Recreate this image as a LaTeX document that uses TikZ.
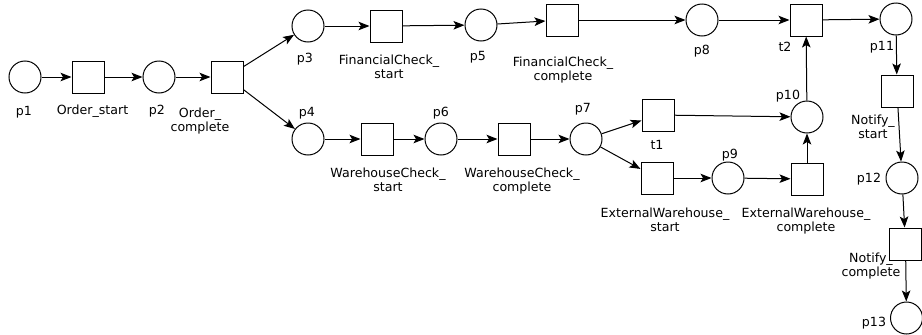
\documentclass[tikz,border=0pt]{standalone}
\usepackage{fontspec}
\setmainfont{DejaVu Sans}
\usetikzlibrary{arrows.meta}
\begin{document}
\begin{tikzpicture}[x=1pt,y=-1pt,
  place/.style={circle,draw,line width=1pt,minimum size=32pt,inner sep=0pt},
  trans/.style={rectangle,draw,line width=1pt,minimum size=32pt,inner sep=0pt},
  lbl/.style={anchor=north,inner sep=0pt,align=center,font=\fontsize{12.6}{14}\selectfont},
  arc/.style={-{Stealth[length=11pt,width=8.5pt,inset=2.5pt]},line width=1pt}]
\useasboundingbox (0,0) rectangle (922,335);
% places and transitions
\node[place] (p1) at (25,77) {};
\node[trans] (os) at (88,77) {};
\node[place] (p2) at (159,77) {};
\node[trans] (oc) at (227,77) {};
\node[place] (p3) at (308,26) {};
\node[trans] (fcs) at (386,26) {};
\node[place] (p5) at (481,25) {};
\node[trans] (fcc) at (562,20) {};
\node[place] (p8) at (702,20) {};
\node[trans] (t2) at (806,20) {};
\node[place] (p11) at (896,19) {};
\node[trans] (ns) at (897,91) {};
\node[place] (p12) at (902,178) {};
\node[trans] (nc) at (905.5,244) {};
\node[place] (p13) at (906.5,318) {};
\node[place] (p4) at (308,139) {};
\node[trans] (wcs) at (377,139) {};
\node[place] (p6) at (441,139) {};
\node[trans] (wcc) at (514,139) {};
\node[place] (p7) at (586,139) {};
\node[trans] (t1) at (658,115) {};
\node[place] (p10) at (807,117) {};
\node[trans] (ews) at (657,178) {};
\node[place] (p9) at (728,178) {};
\node[trans] (ewc) at (807,179) {};
% labels
\node[lbl] (lp1) at (24,106) {p1};
\node[lbl] (los) at (92.5,105) {Order\_start};
\node[lbl] (lp2) at (157,105) {p2};
\node[lbl] (loc) at (200,108) {Order\_\\complete};
\node[lbl] (lp3) at (305,52.7) {p3};
\node[lbl] (lfcs) at (389,55) {FinancialCheck\_\\start};
\node[lbl] (lp5) at (478,50.7) {p5};
\node[lbl] (lfcc) at (563,56.7) {FinancialCheck\_\\complete};
\node[lbl] (lp8) at (702,45) {p8};
\node[lbl] (lt2) at (785,42) {t2};
\node[lbl] (lp11) at (882,41) {p11};
\node[lbl] (lp4) at (307,107) {p4};
\node[lbl] (lwcs) at (388,168) {WarehouseCheck\_\\start};
\node[lbl] (lp6) at (441,107) {p6};
\node[lbl] (lwcc) at (522,168) {WarehouseCheck\_\\complete};
\node[lbl] (lp7) at (583,103) {p7};
\node[lbl] (lt1) at (657,140) {t1};
\node[lbl] (lp9) at (730,149) {p9};
\node[lbl] (lp10) at (788,90) {p10};
\node[lbl] (lews) at (665,208) {ExternalWarehouse\_\\start};
\node[lbl] (lewc) at (806,208) {ExternalWarehouse\_\\complete};
\node[lbl] (lns) at (873,115) {Notify\_\\start};
\node[lbl] (lp12) at (869,173) {p12};
\node[lbl] (lnc) at (871,253) {Notify\_\\complete};
\node[lbl] (lp13) at (874,317) {p13};
% arcs
\draw[arc] (p1) -- (os);
\draw[arc] (os) -- (p2);
\draw[arc] (p2) -- (oc);
\draw[arc] (oc) -- (p3);
\draw[arc] (oc) -- (p4);
\draw[arc] (p3) -- (fcs);
\draw[arc] (fcs) -- (p5);
\draw[arc] (p5) -- (fcc);
\draw[arc] (fcc) -- (p8);
\draw[arc] (p8) -- (t2);
\draw[arc] (t2) -- (p11);
\draw[arc] (p11) -- (ns);
\draw[arc] (ns) -- (p12);
\draw[arc] (p12) -- (nc);
\draw[arc] (nc) -- (p13);
\draw[arc] (p4) -- (wcs);
\draw[arc] (wcs) -- (p6);
\draw[arc] (p6) -- (wcc);
\draw[arc] (wcc) -- (p7);
\draw[arc] (p7) -- (t1);
\draw[arc] (p7) -- (ews);
\draw[arc] (t1) -- (p10);
\draw[arc] (ews) -- (p9);
\draw[arc] (p9) -- (ewc);
\draw[arc] (ewc) -- (p10);
\draw[arc] (p10) -- (t2);
\end{tikzpicture}
\end{document}
